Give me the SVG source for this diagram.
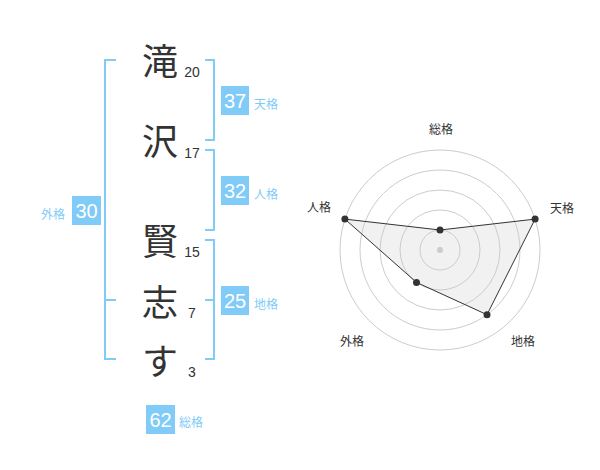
<svg xmlns="http://www.w3.org/2000/svg" width="600" height="470" viewBox="0 0 600 470">
<style>
.k{font-family:"Noto Sans CJK JP","Noto Sans",sans-serif;font-size:36px;fill:#333;text-anchor:middle}
.n{font-family:"Liberation Sans",Arial,sans-serif;font-size:14px;fill:#333;text-anchor:middle}
.br{fill:none;stroke:#80cbf7;stroke-width:2}
.box{fill:#80cbf7}
.bn{font-family:"Liberation Sans",Arial,sans-serif;font-size:20px;fill:#fff;text-anchor:middle}
.bl{font-family:"Noto Sans CJK JP",sans-serif;font-size:12px;fill:#80cbf7}
.ring{fill:none;stroke:#ccc;stroke-width:1}
.rl{font-family:"Noto Sans CJK JP",sans-serif;font-size:12px;fill:#333;text-anchor:middle}
.dot{fill:#333}
</style>
<rect width="600" height="470" fill="#fff"/>
<g id="chars">
<g id="c1"><text class="k" x="160" y="75">滝</text><text class="n" x="192" y="77">20</text></g>
<g id="c2"><text class="k" x="160" y="155">沢</text><text class="n" x="192" y="158">17</text></g>
<g id="c3"><text class="k" x="160" y="255">賢</text><text class="n" x="192" y="257">15</text></g>
<g id="c4"><text class="k" x="160" y="316">志</text><text class="n" x="192" y="318">7</text></g>
<g id="c5"><text class="k" x="160" y="375">す</text><text class="n" x="192" y="377">3</text></g>
</g>
<g id="connectors">
<path class="br" d="M116 60H105V359H116M105 300H116"/>
<path class="br" d="M205 60H214V140H205"/>
<path class="br" d="M205 150H214V230H205"/>
<path class="br" d="M205 240H214V359H205M214 300H205"/>
</g>
<g id="tenkaku"><rect class="box" x="221" y="86" width="28" height="29"/><text class="bn" x="235" y="108">37</text><text class="bl" x="254" y="108.5">天格</text></g>
<g id="jinkaku"><rect class="box" x="221" y="176" width="28" height="29"/><text class="bn" x="235" y="198">32</text><text class="bl" x="254" y="198.5">人格</text></g>
<g id="chikaku"><rect class="box" x="221" y="286" width="28" height="29"/><text class="bn" x="235" y="308">25</text><text class="bl" x="254" y="308.5">地格</text></g>
<g id="gaikaku"><rect class="box" x="72" y="196" width="29" height="29"/><text class="bn" x="86.5" y="218">30</text><text class="bl" x="41" y="218.5">外格</text></g>
<g id="soukaku"><rect class="box" x="146" y="405" width="29" height="29"/><text class="bn" x="160.5" y="427">62</text><text class="bl" x="179" y="427">総格</text></g>
<g id="radar">
<polygon points="440,230 535.1,219.1 487,314.7 416.5,282.4 344.9,219.1" fill="#eee" fill-opacity="0.8" stroke="none"/>
<circle class="ring" cx="440" cy="250" r="20"/>
<circle class="ring" cx="440" cy="250" r="40"/>
<circle class="ring" cx="440" cy="250" r="60"/>
<circle class="ring" cx="440" cy="250" r="80"/>
<circle class="ring" cx="440" cy="250" r="100"/>
<circle cx="440" cy="250" r="3" fill="#ccc"/>
<polygon points="440,230 535.1,219.1 487,314.7 416.5,282.4 344.9,219.1" fill="none" stroke="#333" stroke-width="1"/>
<circle class="dot" cx="440" cy="230" r="3.5"/>
<circle class="dot" cx="535.1" cy="219.1" r="3.5"/>
<circle class="dot" cx="487" cy="314.7" r="3.5"/>
<circle class="dot" cx="416.5" cy="282.4" r="3.5"/>
<circle class="dot" cx="344.9" cy="219.1" r="3.5"/>
<text class="rl" x="441" y="134">総格</text>
<text class="rl" x="562" y="213">天格</text>
<text class="rl" x="319" y="212">人格</text>
<text class="rl" x="352" y="346">外格</text>
<text class="rl" x="523" y="346">地格</text>
</g>
</svg>
